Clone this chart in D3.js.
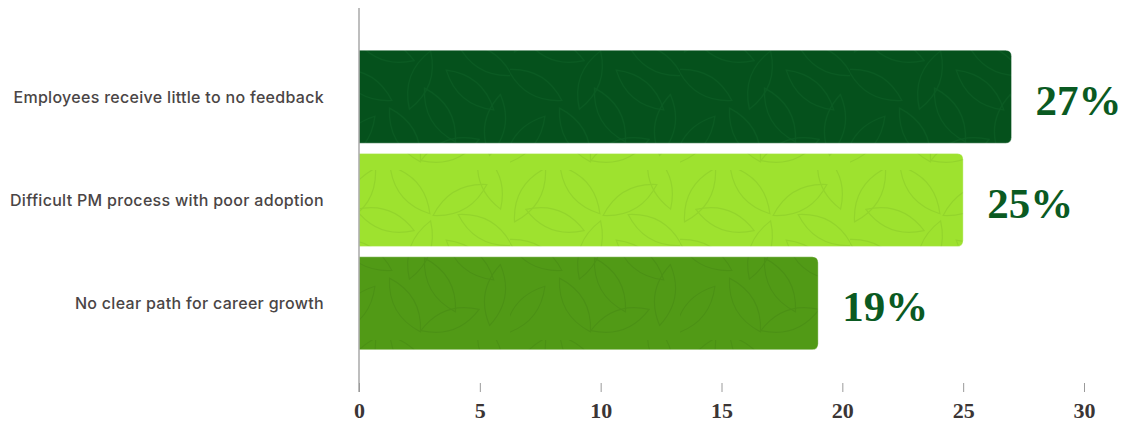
<!DOCTYPE html>
<html>
<head>
<meta charset="utf-8">
<script src="https://cdn.jsdelivr.net/npm/d3@7/dist/d3.min.js"></script>
<style>
  html, body { margin: 0; padding: 0; background: #ffffff; }
  svg { display: block; }
</style>
</head>
<body>
<div id="chart"></div>
<script>
const categories = [
  "Employees receive little to no feedback",
  "Difficult PM process with poor adoption",
  "No clear path for career growth"
];
const values = [27, 25, 19];
const valueLabels = ["27%", "25%", "19%"];
const tickValues = [0, 5, 10, 15, 20, 25, 30];
const barColors = ["#05511c", "#9ee22f", "#519a16"];
const leafStroke = ["#0a5a22", "#93d52b", "#4b9114"];

const W = 1121, H = 423;
const svg = d3.select("#chart").append("svg").attr("width", W).attr("height", H);

const x = d3.scaleLinear().domain([0, 30]).range([359, 1084]);
const y = d3.scaleBand().domain(categories).range([8, 392]).paddingInner(0.1).paddingOuter(0.41);

// leaf pattern
const defs = svg.append("defs");
const leaves = [
  [20, 25, 30], [70, 20, -40], [120, 30, 60], [150, 10, -20],
  [25, 85, -60], [80, 80, 20], [130, 90, -50], [15, 140, 40],
  [65, 135, -30], [110, 150, 70], [155, 125, 10], [45, 50, 110],
  [100, 115, 150], [145, 60, 120]
];
function leafPath(L, Wd) {
  return `M0,${-L/2} Q${Wd},0 0,${L/2} Q${-Wd},0 0,${-L/2} Z`;
}
barColors.forEach((c, i) => {
  const p = defs.append("pattern")
    .attr("id", "leaf" + i)
    .attr("patternUnits", "userSpaceOnUse")
    .attr("width", 170).attr("height", 170);
  p.append("rect").attr("width", 170).attr("height", 170).attr("fill", c);
  leaves.forEach(l => {
    p.append("path")
      .attr("d", leafPath(62, 20))
      .attr("transform", `translate(${l[0]},${l[1]}) rotate(${l[2]})`)
      .attr("fill", "none")
      .attr("stroke", leafStroke[i])
      .attr("stroke-width", 1.2);
  });
});

function barPath(x0, y0, w, h, r) {
  return `M${x0},${y0} H${x0 + w - r} Q${x0 + w},${y0} ${x0 + w},${y0 + r} V${y0 + h - r} Q${x0 + w},${y0 + h} ${x0 + w - r},${y0 + h} H${x0} Z`;
}

// bars
svg.append("g").selectAll("path")
  .data(values)
  .join("path")
  .attr("d", (d, i) => barPath(x(0), y(categories[i]), x(d) - x(0), y.bandwidth(), 6))
  .attr("fill", (d, i) => `url(#leaf${i})`)
  .attr("stroke", "rgba(255,255,255,0.35)")
  .attr("stroke-width", 1);

// value labels
svg.append("g").selectAll("text")
  .data(values)
  .join("text")
  .attr("x", d => x(d) + 24)
  .attr("y", (d, i) => y(categories[i]) + y.bandwidth() / 2 + 18)
  .attr("font-family", "'Liberation Serif', serif")
  .attr("font-weight", "bold")
  .attr("font-size", 43)
  .attr("fill", "#0a5a22")
  .text((d, i) => valueLabels[i]);

// category labels
svg.append("g").selectAll("text")
  .data(categories)
  .join("text")
  .attr("x", 324)
  .attr("y", d => y(d) + y.bandwidth() / 2 + 6)
  .attr("text-anchor", "end")
  .attr("font-family", "Inter, sans-serif")
  .attr("font-weight", 500)
  .attr("font-size", 16)
  .attr("letter-spacing", 0.3)
  .attr("fill", "#4a4545")
  .text(d => d);

// y axis line
svg.append("line")
  .attr("x1", x(0)).attr("x2", x(0))
  .attr("y1", 8).attr("y2", 392)
  .attr("stroke", "#a8a8a8").attr("stroke-width", 1.5);

// x axis ticks
const xAxis = d3.axisBottom(x).tickValues(tickValues).tickSize(9).tickPadding(10).tickFormat(d3.format("d"));
const gx = svg.append("g").attr("transform", "translate(0,383)").call(xAxis);
gx.select(".domain").remove();
gx.selectAll(".tick line").attr("stroke", "#9a9a9a");
gx.selectAll(".tick text")
  .attr("font-family", "'Liberation Serif', serif")
  .attr("font-weight", "bold")
  .attr("font-size", 22)
  .attr("fill", "#3b3535");
</script>
</body>
</html>
